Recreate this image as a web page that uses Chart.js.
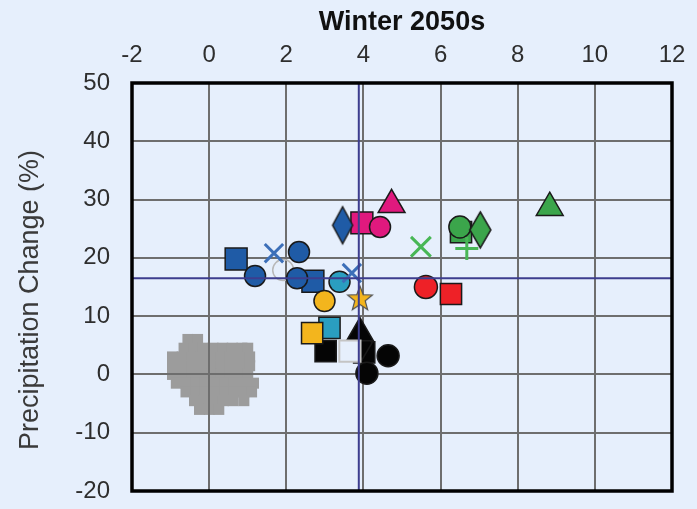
<!DOCTYPE html>
<html><head><meta charset="utf-8">
<script src="https://cdn.jsdelivr.net/npm/chart.js@4"></script>
<style>html,body{margin:0;padding:0;background:#e6effc;}canvas{display:block;}</style>
</head><body>
<canvas id="c" width="697" height="509"></canvas>
<script>
// ---- data ----
const xTicks = [-2, 0, 2, 4, 6, 8, 10, 12];
const yTicks = [-20, -10, 0, 10, 20, 30, 40, 50];
const meanX = 3.88;
const meanY = 16.5;
const chartTitle = 'Winter 2050s';
const yTitle = 'Precipitation Change (%)';

const blueSquares   = [[0.70, 19.8], [2.69, 16.0]];
const blueCircles   = [[1.19, 16.9], [2.33, 21.0], [2.28, 16.5]];
const blueDiamonds  = [[3.46, 25.6]];
const blueCrosses   = [[1.68, 20.8], [3.70, 17.4]];
const hollowCircles = [[1.92, 17.9]];
const tealCircles   = [[3.38, 15.9]];
const tealSquares   = [[3.12, 8.0]];
const yellowCircles = [[2.99, 12.6]];
const yellowStars   = [[3.91, 13.1]];
const yellowSquares = [[2.67, 7.1]];
const blackTriangles = [[3.91, 7.1]];
const blackDiamonds = [[3.96, 5.4]];
const blackSquares  = [[3.02, 4.0], [4.02, 3.8]];
const blackCircles  = [[4.64, 3.2], [4.09, 0.2]];
const hollowSquares = [[3.65, 4.0]];
const magentaSquares = [[3.96, 26.0]];
const magentaCircles = [[4.43, 25.3]];
const magentaTriangles = [[4.73, 29.1]];
const greenCrosses  = [[5.49, 21.9]];
const greenPluses   = [[6.68, 21.6]];
const greenSquares  = [[6.53, 24.4]];
const greenCircles  = [[6.50, 25.3]];
const greenDiamonds = [[7.03, 24.8]];
const greenTriangles = [[8.83, 28.6]];
const redCircles    = [[5.62, 15.0]];
const redSquares    = [[6.27, 13.8]];

// grey ensemble cloud: rows of y with x positions
const blobY = [6.0, 4.5, 3.0, 1.5, 0.0, -1.5, -3.0, -4.5, -6.0];
const blobX = [
  [-0.55, -0.3],
  [-0.65, -0.4, -0.15, 0.1, 0.35, 0.6, 0.85, 1.0],
  [-0.95, -0.7, -0.45, -0.2, 0.05, 0.3, 0.55, 0.8, 1.05],
  [-0.95, -0.7, -0.45, -0.2, 0.05, 0.3, 0.55, 0.8, 1.05],
  [-0.95, -0.7, -0.45, -0.2, 0.05, 0.3, 0.55, 0.8, 1.0],
  [-0.85, -0.6, -0.35, -0.1, 0.15, 0.4, 0.65, 0.9, 1.15],
  [-0.6, -0.35, -0.1, 0.15, 0.4, 0.65, 0.9, 1.1],
  [-0.38, -0.13, 0.12, 0.37, 0.62, 0.9],
  [-0.25, 0.0, 0.25]
];

// ---- styles ----
const BG = '#e6effc';
const C = {
  blue: '#1f5ba6', blueX: '#3c6fb8', teal: '#2a9ec0', yellow: '#f3b51d',
  black: '#050505', magenta: '#e0197e', green: '#3ba54b', greenX: '#48b755',
  red: '#ee2127', grey: '#9c9c9c', navy: '#3d3d8e'
};
const EDGE = '#1a1a1a';
const FONT = '"Liberation Sans", Arial, Helvetica, sans-serif';

function diamondImg(fill, w, h) {
  const c = document.createElement('canvas');
  c.width = w + 4; c.height = h + 4;
  const g = c.getContext('2d');
  const cx = c.width / 2, cy = c.height / 2;
  g.beginPath();
  g.moveTo(cx, 2); g.lineTo(w + 2, cy); g.lineTo(cx, h + 2); g.lineTo(2, cy); g.closePath();
  g.fillStyle = fill; g.fill();
  g.lineWidth = 1.5; g.strokeStyle = EDGE; g.stroke();
  return c;
}
function starImg(fill, R) {
  const s = Math.ceil(R * 2 + 4);
  const c = document.createElement('canvas');
  c.width = s; c.height = s;
  const g = c.getContext('2d');
  const cx = s / 2, cy = s / 2 + 1;
  g.beginPath();
  for (let i = 0; i < 10; i++) {
    const r = i % 2 === 0 ? R : R * 0.42;
    const a = -Math.PI / 2 + i * Math.PI / 5;
    const px = cx + r * Math.cos(a), py = cy + r * Math.sin(a);
    if (i === 0) g.moveTo(px, py); else g.lineTo(px, py);
  }
  g.closePath();
  g.fillStyle = fill; g.fill();
  g.lineWidth = 1.2; g.strokeStyle = '#555'; g.stroke();
  return c;
}

const pts = arr => arr.map(p => ({x: p[0], y: p[1]}));
function marker(arr, style, fill, radius, extra) {
  return Object.assign({
    data: pts(arr), pointStyle: style, pointRadius: radius,
    backgroundColor: fill, pointBackgroundColor: fill,
    borderColor: EDGE, pointBorderColor: EDGE, pointBorderWidth: 1.5, borderWidth: 1.5,
    showLine: false
  }, extra || {});
}
function crossMarker(arr, style, color, radius) {
  return {
    data: pts(arr), pointStyle: style, pointRadius: radius,
    pointBorderColor: color, borderColor: color, pointBorderWidth: 3, borderWidth: 3,
    pointBackgroundColor: color, showLine: false
  };
}

const blobPts = [];
blobY.forEach((y, i) => blobX[i].forEach(x => blobPts.push([x, y])));

const datasets = [
  { data: [{x: meanX, y: yTicks[0]}, {x: meanX, y: yTicks[yTicks.length - 1]}], showLine: true,
    borderColor: C.navy, borderWidth: 2, pointRadius: 0 },
  { data: [{x: xTicks[0], y: meanY}, {x: xTicks[xTicks.length - 1], y: meanY}], showLine: true,
    borderColor: C.navy, borderWidth: 2, pointRadius: 0 },
  crossMarker(blueCrosses, 'crossRot', C.blueX, 13),
  crossMarker(greenCrosses, 'crossRot', C.greenX, 14),
  crossMarker(greenPluses, 'cross', C.greenX, 11.5),
  marker(yellowStars, starImg(C.yellow, 13), C.yellow, 13),
  marker(magentaTriangles, 'triangle', C.magenta, 15.5),
  marker(greenTriangles, 'triangle', C.green, 15.5),
  marker(hollowSquares, 'rect', BG, 15, {pointBorderColor: '#c4c4c4', pointBorderWidth: 2}),
  marker(blackTriangles, 'triangle', C.black, 15.5),
  marker(greenDiamonds, diamondImg(C.green, 21, 36), C.green, 12),
  marker(blueDiamonds, diamondImg(C.blue, 20, 37), C.blue, 12),
  marker(blackDiamonds, diamondImg(C.black, 20, 34), C.black, 12),
  marker(blueCircles, 'circle', C.blue, 10.5),
  marker(tealCircles, 'circle', C.teal, 10.5),
  marker(yellowCircles, 'circle', C.yellow, 10.5),
  marker(magentaCircles, 'circle', C.magenta, 10.5),
  marker(greenCircles, 'circle', C.green, 11),
  marker(redCircles, 'circle', C.red, 11.5),
  marker(blackCircles, 'circle', C.black, 11),
  marker(hollowCircles, 'circle', 'rgba(0,0,0,0)', 10.5, {pointBorderColor: '#b8b8b8', pointBorderWidth: 1.5}),
  marker(yellowSquares, 'rect', C.yellow, 15),
  marker(tealSquares, 'rect', C.teal, 15),
  marker(blueSquares, 'rect', C.blue, 15.5),
  marker(magentaSquares, 'rect', C.magenta, 15.5),
  marker(greenSquares, 'rect', C.green, 15),
  marker(redSquares, 'rect', C.red, 15),
  marker(blackSquares, 'rect', C.black, 15),
  { data: pts(blobPts), pointStyle: 'rect', pointRadius: 7.8, pointBorderWidth: 0,
    pointBackgroundColor: C.grey, pointBorderColor: C.grey, showLine: false }
];
const BLOB_INDEX = datasets.length - 1;

// grey cloud sits beneath the grid: redraw the library's grid right after it
const gridOverCloud = {
  id: 'gridOverCloud',
  afterDatasetDraw(chart, args) {
    if (args.index !== BLOB_INDEX) return;
    const a = chart.chartArea;
    chart.scales.x.drawGrid(a);
    chart.scales.y.drawGrid(a);
  }
};
const framePlugin = {
  id: 'frame',
  afterDatasetsDraw(chart) {
    const {ctx, chartArea: a} = chart;
    ctx.save();
    ctx.strokeStyle = '#000';
    ctx.lineWidth = 3.5;
    ctx.strokeRect(a.left, a.top, a.right - a.left, a.bottom - a.top);
    ctx.restore();
  }
};
const yTitlePlugin = {
  id: 'ytitle',
  afterDraw(chart) {
    const {ctx} = chart;
    ctx.save();
    ctx.translate(31, 300);
    ctx.rotate(-Math.PI / 2);
    ctx.font = '27px ' + FONT;
    ctx.fillStyle = '#3a3a3a';
    ctx.textAlign = 'center';
    ctx.textBaseline = 'middle';
    ctx.fillText(yTitle, 0, 0);
    ctx.restore();
  }
};

new Chart(document.getElementById('c'), {
  type: 'scatter',
  data: { datasets },
  options: {
    responsive: false, animation: false, devicePixelRatio: 1,
    layout: { padding: { left: 0, top: 0, right: 25, bottom: 18 }, autoPadding: false },
    plugins: { legend: { display: false }, tooltip: { enabled: false } },
    scales: {
      x: {
        type: 'linear', position: 'top', min: xTicks[0], max: xTicks[xTicks.length - 1],
        afterFit: s => { s.height = 83; s.paddingLeft = 0; s.paddingRight = 0; },
        afterBuildTicks: s => { s.ticks = xTicks.map(v => ({value: v})); },
        ticks: { padding: 13, color: '#2e2e2e', font: { family: FONT, size: 24 }, maxRotation: 0,
                 callback: v => String(v) },
        grid: { color: '#6e6e6e', lineWidth: 2, drawTicks: false },
        border: { display: false },
        title: { display: true, text: chartTitle, color: '#111',
                 font: { family: FONT, size: 27, weight: 'bold' }, padding: { top: 6, bottom: 0 } }
      },
      y: {
        type: 'linear', min: yTicks[0], max: yTicks[yTicks.length - 1],
        afterFit: s => { s.width = 132; s.paddingTop = 0; s.paddingBottom = 0; },
        ticks: { stepSize: 5, padding: 22, color: '#2e2e2e', font: { family: FONT, size: 24 },
                 callback: v => yTicks.includes(v) ? String(v) : '' },
        grid: { color: '#6e6e6e', lineWidth: 2, drawTicks: false },
        border: { display: false },
        title: { display: false, text: yTitle }
      }
    }
  },
  plugins: [gridOverCloud, framePlugin, yTitlePlugin]
});
</script>
</body></html>
